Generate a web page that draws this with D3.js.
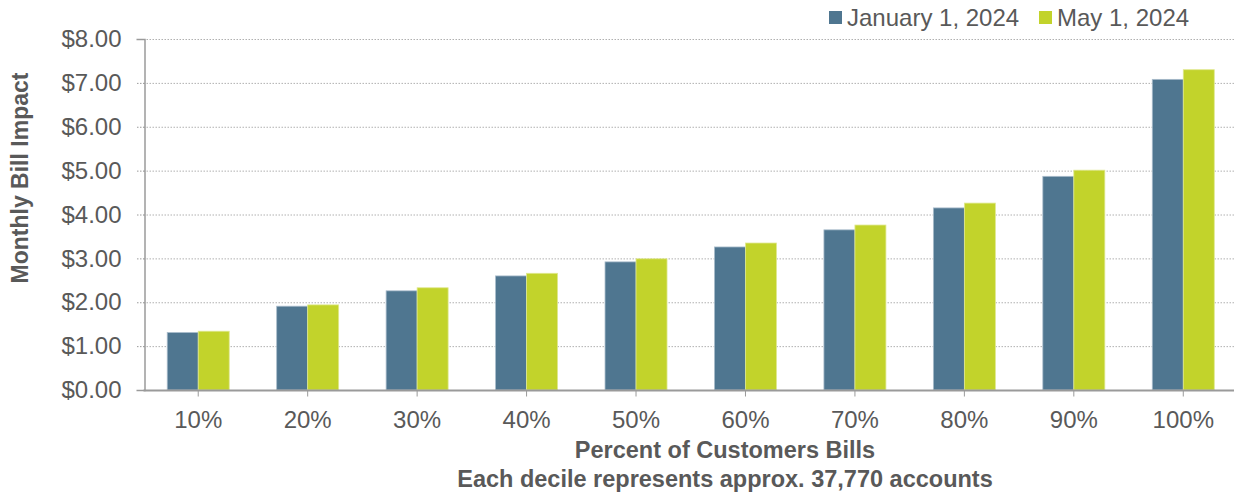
<!DOCTYPE html>
<html><head><meta charset="utf-8">
<script src="https://cdn.jsdelivr.net/npm/d3@7"></script>
<style>body{margin:0;background:#fff}svg{display:block}text{font-family:"Liberation Sans",Arial,sans-serif}</style>
</head><body><svg id="c" width="1234" height="495"></svg>
<script>
const categories = ["10%","20%","30%","40%","50%","60%","70%","80%","90%","100%"];
const seriesNames = ["January 1, 2024","May 1, 2024"];
const jan2024 = [1.31,1.91,2.26,2.60,2.92,3.26,3.65,4.15,4.87,7.08];
const may2024 = [1.34,1.94,2.33,2.66,2.99,3.35,3.76,4.26,5.01,7.30];
const yTicks = [0,1,2,3,4,5,6,7,8];
const colors = ["#4F7690","#C2D32B"];

(function(){
const svg = d3.select("#c");
const mLeft = 143.5, mRight = 1238, mTop = 39, mBottom = 390;
const x = d3.scaleBand().domain(categories).range([mLeft, mRight]).paddingInner(0).paddingOuter(0);
const x1 = d3.scaleBand().domain(seriesNames).range([0, 62]);
const y = d3.scaleLinear().domain([0, 8]).range([mBottom, mTop]);
const txt = "#595959";
const fs = 24;

svg.append("g").selectAll("line").data(yTicks.filter(d=>d>0)).join("line")
  .attr("x1", mLeft).attr("x2", 1234).attr("y1", d=>y(d)+0.5).attr("y2", d=>y(d)+0.5)
  .attr("stroke", "#b0b0b0").attr("stroke-width", 1).attr("stroke-dasharray", "1.5,1.5");

const yAxis = svg.append("g").attr("transform", `translate(${mLeft+1},0)`)
  .call(d3.axisLeft(y).tickValues(yTicks).tickSize(8).tickPadding(15).tickFormat(d=>"$"+d3.format(".2f")(d)));
yAxis.select(".domain").attr("stroke", "#9a9a9a").attr("stroke-width", 1.5);
yAxis.selectAll(".tick line").attr("stroke", "#9a9a9a").attr("stroke-dasharray","1.5,1.5");
yAxis.selectAll("text").attr("fill", txt).attr("font-size", fs).attr("font-family","Liberation Sans, Arial, sans-serif");

const data = categories.map((c,i)=>({c, vals:[jan2024[i], may2024[i]]}));
const g = svg.append("g").selectAll("g").data(data).join("g")
  .attr("transform", d=>`translate(${x(d.c)+x.bandwidth()/2-31},0)`);
g.selectAll("rect").data(d=>d.vals.map((v,j)=>({v, s:seriesNames[j], j}))).join("rect")
  .attr("x", d=>x1(d.s)).attr("width", x1.bandwidth())
  .attr("y", d=>y(d.v)).attr("height", d=>y(0)-y(d.v))
  .attr("fill", d=>colors[d.j]).attr("stroke", d=>d.j? "#dfe88f":"#a9bccb").attr("stroke-width",0.8);

const xAxis = svg.append("g").attr("transform", `translate(0,${mBottom+0.5})`)
  .call(d3.axisBottom(x).tickSize(6).tickPadding(14));
xAxis.select(".domain").attr("stroke", "#9a9a9a").attr("stroke-width", 2).attr("d", `M${mLeft},0H1234`);
xAxis.selectAll(".tick line").attr("stroke", "#9a9a9a");
xAxis.selectAll("text").attr("fill", txt).attr("font-size", fs).attr("font-family","Liberation Sans, Arial, sans-serif");

svg.append("text").attr("transform", `translate(28,178) rotate(-90)`)
  .attr("text-anchor","middle").attr("font-size",23).attr("font-weight","bold").attr("fill",txt)
  .text("Monthly Bill Impact");
svg.append("text").attr("x", 725).attr("y", 458).attr("text-anchor","middle")
  .attr("font-size",23.5).attr("font-weight","bold").attr("fill",txt).text("Percent of Customers Bills");
svg.append("text").attr("x", 725).attr("y", 487).attr("text-anchor","middle")
  .attr("font-size",23.5).attr("font-weight","bold").attr("fill",txt).text("Each decile represents approx. 37,770 accounts");

const legX = [829, 1039];
const lg = svg.append("g").selectAll("g").data(seriesNames).join("g")
  .attr("transform",(d,i)=>`translate(${legX[i]},0)`);
lg.append("rect").attr("x",0).attr("y",11).attr("width",13).attr("height",13).attr("fill",(d,i)=>colors[i]);
lg.append("text").attr("x",18).attr("y",26).attr("font-size",fs).attr("fill",txt).text(d=>d);
})();
</script></body></html>
